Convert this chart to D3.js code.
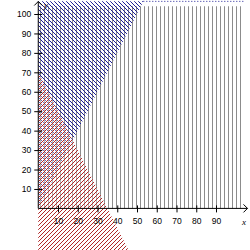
<!DOCTYPE html>
<head>
  <meta charset="utf-8">
  <script src="https://d3js.org/d3.v7.min.js"></script>
  <style>
    body { margin: 0; background: #fff; }
    .tick text { font-family: "Liberation Sans", sans-serif; font-size: 8.5px; fill: #000; }
  </style>
</head>
<body>

<div id="my_dataviz"></div>

<script>

  // tick labels
  var xTicks = [10, 20, 30, 40, 50, 60, 70, 80, 90];
  var yTicks = [10, 20, 30, 40, 50, 60, 70, 80, 90, 100];

  // regions (data coordinates)
  var grayRegion = [[0, 0], [104, 0], [104, 104], [0, 104]];      // x >= 0, y >= 0
  var blueRegion = [[0, 0], [53.2, 106.5], [0, 106.5]];           // y >= 2x
  var redRegion  = [[0, 70], [46, -22], [0, -22]];                // 2x + y <= 70
  var blueTop    = [[53.2, 106.5], [104, 106.5]];

  var width = 250, height = 250;

  var svg = d3.select("#my_dataviz")
    .append("svg")
      .attr("width", width)
      .attr("height", height);

  svg.append("rect").attr("width", width).attr("height", height).attr("fill", "#fff");

  // scales
  var x = d3.scaleLinear().domain([0, 100]).range([38.25, 235.75]);
  var y = d3.scaleLinear().domain([0, 100]).range([208.4, 14]);

  var line = d3.line().x(function(d) { return x(d[0]); }).y(function(d) { return y(d[1]); });

  // hatch patterns, drawn as single pixels so they stay sharp
  var defs = svg.append("defs");

  function hatch(id, color, cells) {
    defs.append("pattern")
        .attr("id", id).attr("patternUnits", "userSpaceOnUse")
        .attr("width", 4).attr("height", 4)
      .selectAll("rect")
      .data(cells)
      .join("rect")
        .attr("x", function(d) { return d[0]; })
        .attr("y", function(d) { return d[1]; })
        .attr("width", 1).attr("height", 1)
        .attr("fill", color);
  }
  hatch("hatchVert", "#8c8c8c", [[0, 0], [0, 1], [0, 2], [0, 3]]);
  hatch("hatchBlue", "#1e1e96", [[1, 0], [2, 1], [3, 2], [0, 3]]);
  hatch("hatchRed",  "#b02828", [[3, 0], [2, 1], [1, 2], [0, 3]]);

  // regions
  svg.append("path").attr("d", line(grayRegion) + "Z").attr("fill", "url(#hatchVert)");
  svg.append("path").attr("d", line(blueRegion) + "Z").attr("fill", "url(#hatchBlue)");
  svg.append("path").attr("d", line(blueTop))
    .attr("stroke", "#1e1e96").attr("stroke-dasharray", "1,2").attr("fill", "none");
  svg.append("path").attr("d", line(redRegion) + "Z").attr("fill", "#fff").attr("fill-opacity", 0.35);
  svg.append("path").attr("d", line(redRegion) + "Z").attr("fill", "url(#hatchRed)");

  // axes
  var gx = svg.append("g")
    .attr("transform", "translate(0," + y(0) + ")")
    .call(d3.axisBottom(x).tickValues(xTicks).tickSizeInner(7).tickSizeOuter(0).tickPadding(3));
  gx.select(".domain").remove();
  gx.selectAll(".tick line").attr("transform", "translate(0,-3)").attr("stroke", "#000");

  var gy = svg.append("g")
    .attr("transform", "translate(" + x(0) + ",0)")
    .call(d3.axisLeft(y).tickValues(yTicks).tickSizeInner(8).tickSizeOuter(0).tickPadding(-1));
  gy.select(".domain").remove();
  gy.selectAll(".tick line").attr("transform", "translate(4,0)").attr("stroke", "#000");

  // axis lines with arrows
  var x0 = x(0), y0 = y(0), xEnd = 247.5, yEnd = 1.5;
  svg.append("path")
    .attr("d", "M" + x0 + "," + y0 + "H" + xEnd + "M" + (xEnd - 4) + "," + (y0 - 4) + "L" + xEnd + "," + y0 + "L" + (xEnd - 4) + "," + (y0 + 4))
    .attr("stroke", "#000").attr("fill", "none");
  svg.append("path")
    .attr("d", "M" + x0 + "," + y0 + "V" + yEnd + "M" + (x0 - 4) + "," + (yEnd + 4) + "L" + x0 + "," + yEnd + "L" + (x0 + 4) + "," + (yEnd + 4))
    .attr("stroke", "#000").attr("fill", "none");

  // axis names
  svg.append("text").attr("x", 244).attr("y", 225)
    .attr("text-anchor", "middle")
    .style("font-family", "Liberation Serif, serif").style("font-style", "italic").style("font-size", "9px")
    .text("x");
  svg.append("text").attr("x", 46).attr("y", 8)
    .attr("text-anchor", "middle")
    .style("font-family", "Liberation Serif, serif").style("font-style", "italic").style("font-size", "9px")
    .text("y");

</script>

</body>
